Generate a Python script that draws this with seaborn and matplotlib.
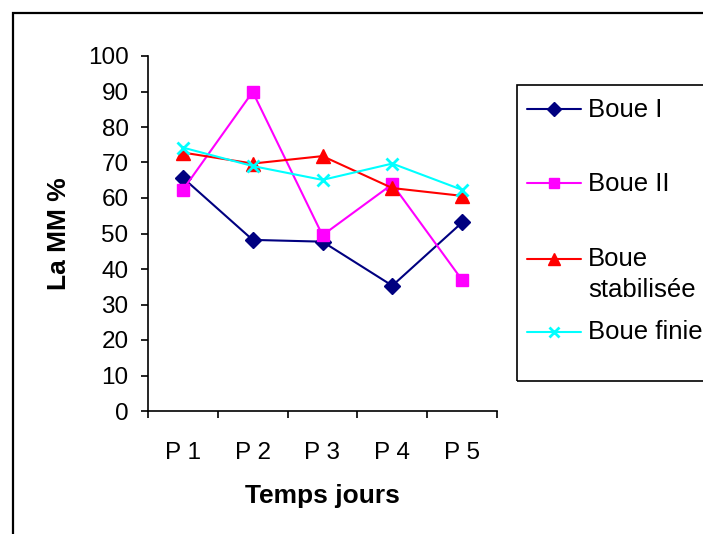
import matplotlib
matplotlib.use("Agg")
import matplotlib.pyplot as plt
from matplotlib.lines import Line2D
from matplotlib.patches import Rectangle
from matplotlib.ticker import FixedLocator
import seaborn as sns
import pandas as pd

# Periods and measured organic matter (%) for each sludge type
periods = ["P 1", "P 2", "P 3", "P 4", "P 5"]
boue_1 = [65.7, 48.2, 47.7, 35.3, 53.1]
boue_2 = [62.3, 89.9, 49.5, 63.9, 36.9]
boue_stab = [72.8, 69.7, 71.8, 62.8, 60.6]
boue_finie = [74.2, 69.0, 65.1, 69.7, 62.3]

series_names = ["Boue I", "Boue II", "Boue stabilisée", "Boue finie"]
legend_labels = ["Boue I", "Boue II", "Boue\nstabilisée", "Boue finie"]
series_values = [boue_1, boue_2, boue_stab, boue_finie]

colors = ["#000080", "#FF00FF", "#FF0000", "#00FFFF"]
markers = ["D", "s", "^", "x"]
msizes = [8, 8.5, 10, 9]

rows = []
for name, vals in zip(series_names, series_values):
    for i, (p, v) in enumerate(zip(periods, vals)):
        rows.append({"periode": p, "pos": i, "MM": v, "boue": name})
df = pd.DataFrame(rows)

sns.set_theme(style="white")
plt.rcParams["font.family"] = ["Liberation Sans", "DejaVu Sans"]

W, H = 703, 534
fig = plt.figure(figsize=(W / 100, H / 100), dpi=100)
fig.patch.set_facecolor("white")

left, right, top, bottom = 148, 497, 56, 411
ax = fig.add_axes([left / W, 1 - bottom / H, (right - left) / W, (bottom - top) / H])
ax.set_facecolor("white")

for name, col, mk, ms in zip(series_names, colors, markers, msizes):
    sub = df[df["boue"] == name]
    sns.lineplot(data=sub, x="pos", y="MM", ax=ax, color=col, marker=mk,
                 markersize=ms, markeredgecolor=col, markerfacecolor=col,
                 markeredgewidth=2 if mk == "x" else 1, linewidth=1.5,
                 sort=False, legend=False)

ax.set_xlim(-0.5, 4.5)
ax.set_ylim(0, 100)
ax.set_yticks(range(0, 101, 10))
ax.set_xticks(range(len(periods)))
ax.set_xticklabels(periods)
ax.xaxis.set_minor_locator(FixedLocator([x - 0.5 for x in range(len(periods) + 1)]))

for s in ["top", "right"]:
    ax.spines[s].set_visible(False)
for s in ["left", "bottom"]:
    ax.spines[s].set_color("black")
    ax.spines[s].set_linewidth(1.2)

ax.tick_params(axis="y", which="major", direction="out", length=5, width=1.2,
               color="black", labelsize=17.5, pad=9, left=True)
ax.tick_params(axis="x", which="major", length=0, labelsize=17.5, pad=22)
ax.tick_params(axis="x", which="minor", direction="out", length=5, width=1.2,
               color="black", bottom=True)
for lab in ax.get_xticklabels() + ax.get_yticklabels():
    lab.set_color("black")

ax.set_xlabel("Temps jours", fontsize=19, fontweight="bold", color="black", labelpad=15)
ax.set_ylabel("La MM %", fontsize=19, fontweight="bold", color="black", labelpad=12)
ax.grid(False)

# Legend box, drawn in figure pixels
def fx(px):
    return px / W

def fy(py):
    return 1 - py / H

fig.add_artist(Rectangle((fx(517), fy(381)), fx(720) - fx(517), fy(85) - fy(381),
                         transform=fig.transFigure, fill=False, edgecolor="black",
                         linewidth=1.2, clip_on=False))

handle_y = [109, 183, 259, 332]
text_base = [117, 191, 266, 339]
for lab, col, mk, ms, hy, ty in zip(legend_labels, colors, markers, msizes, handle_y, text_base):
    fig.add_artist(Line2D([fx(527), fx(581)], [fy(hy), fy(hy)], transform=fig.transFigure,
                          color=col, linewidth=1.5))
    fig.add_artist(Line2D([fx(554)], [fy(hy)], transform=fig.transFigure, color=col,
                          marker=mk, markersize=ms * 0.85, markerfacecolor=col,
                          markeredgecolor=col, markeredgewidth=2 if mk == "x" else 1,
                          linestyle="none"))
    lines = lab.split("\n")
    for k, line in enumerate(lines):
        fig.text(fx(588), fy(ty + k * 31), line, fontsize=18.5, color="black",
                 ha="left", va="baseline")

# Chart-area frame
fig.add_artist(Line2D([fx(13), fx(13), fx(710)], [fy(540), fy(13), fy(13)],
                      transform=fig.transFigure, color="black", linewidth=1.6,
                      solid_joinstyle="miter"))

fig.savefig("out.png", dpi=100, facecolor="white")
